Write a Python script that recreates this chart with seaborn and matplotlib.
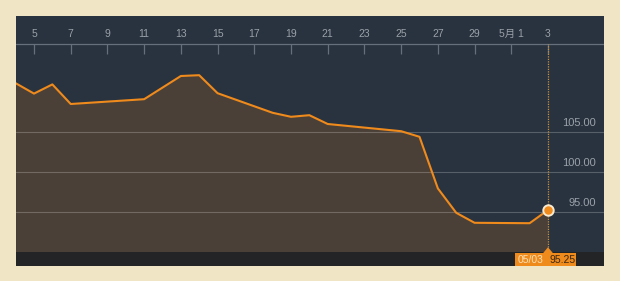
import matplotlib
matplotlib.use("Agg")
import matplotlib.pyplot as plt
import seaborn as sns
import pandas as pd
from matplotlib.patches import Rectangle, Polygon

# ---- data ----
dates = ["2016-04-04", "2016-04-05", "2016-04-06", "2016-04-07", "2016-04-11",
         "2016-04-13", "2016-04-14", "2016-04-15", "2016-04-18", "2016-04-19",
         "2016-04-20", "2016-04-21", "2016-04-25", "2016-04-26", "2016-04-27",
         "2016-04-28", "2016-04-29", "2016-05-02", "2016-05-03"]
prices = [111.1, 109.8, 110.95, 108.5, 109.1,
          112.0, 112.1, 109.85, 107.4, 106.9,
          107.1, 106.0, 105.1, 104.4, 97.95,
          94.9, 93.65, 93.6, 95.25]
tick_dates = ["2016-04-05", "2016-04-07", "2016-04-09", "2016-04-11", "2016-04-13",
              "2016-04-15", "2016-04-17", "2016-04-19", "2016-04-21", "2016-04-23",
              "2016-04-25", "2016-04-27", "2016-04-29", "2016-05-01", "2016-05-03"]
tick_labels = ["5", "7", "9", "11", "13", "15", "17", "19", "21", "23",
               "25", "27", "29", "5月 1", "3"]
y_ticks = [95, 100, 105]
y_tick_labels = ["95.00", "100.00", "105.00"]
last_date_label = "05/03"
last_value_label = "95.25"

# ---- styling ----
CREAM = "#f0e5c5"
NAVY = "#29333f"
BROWN = "#4b4037"
ORANGE = "#ef8a1c"
TEXT = "#9aa1a9"
STRIP = "#232426"

sns.set_theme(style="white")
plt.rcParams["font.family"] = ["Liberation Sans", "Noto Sans CJK JP", "DejaVu Sans"]

base = pd.Timestamp("2016-03-31")
df = pd.DataFrame({"day": [(pd.Timestamp(d) - base).days for d in dates],
                   "price": prices})
tick_days = [(pd.Timestamp(d) - base).days for d in tick_dates]

fig = plt.figure(figsize=(6.2, 2.81), dpi=100, facecolor=CREAM)
ax = fig.add_axes([16 / 620, 15 / 281, 588 / 620, 250 / 281])
ax.set_facecolor(NAVY)

px_per_day = 514 / 28
x_left = 5 - 18 / px_per_day
x_right = 5 + 570 / px_per_day
y_bottom, y_top = 88.25, 119.5
ax.set_xlim(x_left, x_right)
ax.set_ylim(y_bottom, y_top)

# area fill
ax.fill_between(df["day"], df["price"], 90, color=BROWN, zorder=1, lw=0)
# gridlines
for v in y_ticks:
    ax.axhline(v, color="white", alpha=0.22, lw=0.8, zorder=2)
# line
sns.lineplot(data=df, x="day", y="price", ax=ax, color=ORANGE, lw=1.5, zorder=4)

# bottom strip
ax.axhspan(y_bottom, 90, color=STRIP, zorder=3, lw=0)

# top axis line and ticks
ax.axhline(116, color="#66707c", lw=0.9, zorder=2)
ax.vlines(tick_days, 114.8, 116, color="#66707c", lw=0.9, zorder=2)
for d, lab in zip(tick_days, tick_labels):
    ax.text(d, 117.3, lab, ha="center", va="center", color=TEXT, fontsize=7.5)

# y labels
for v, lab in zip(y_ticks, y_tick_labels):
    ax.text(0.986, v + 1.1, lab, transform=ax.get_yaxis_transform(),
            ha="right", va="center", color=TEXT, fontsize=8)

# last point marker + crosshair
last_x = df["day"].iloc[-1]
last_y = df["price"].iloc[-1]
ax.plot([last_x, last_x], [90.6, 116], color="#c9913e", lw=0.9, ls=(0, (1, 1)), zorder=3.5)
ax.plot(last_x, last_y, "o", ms=7.5, mfc=ORANGE, mec="#f7ead2", mew=1.4, zorder=6)

# label box
bx0 = last_x - (548 - 515) / px_per_day
bx1 = last_x + (576 - 548) / px_per_day
ax.add_patch(Rectangle((bx0, 88.25), bx1 - bx0, 89.9 - 88.25, color=ORANGE,
                       zorder=7, clip_on=False, lw=0))
tw = 5 / px_per_day
ax.add_patch(Polygon([[last_x - tw, 89.85], [last_x + tw, 89.85], [last_x, 90.6]],
                     closed=True, color=ORANGE, zorder=7, lw=0))
ax.text(last_x - (548 - 531) / px_per_day, 89.05, last_date_label, ha="center",
        va="center", color="#fbe0b4", fontsize=7.5, zorder=8)
ax.text(last_x + (563 - 548) / px_per_day, 89.05, last_value_label, ha="center",
        va="center", color="#3b2712", fontsize=7.5, zorder=8)

ax.set_xlabel("")
ax.set_ylabel("")
ax.set_xticks([])
ax.set_yticks([])
for s in ax.spines.values():
    s.set_visible(False)
if ax.get_legend():
    ax.get_legend().remove()

fig.savefig("out.png", dpi=100, facecolor=CREAM)
